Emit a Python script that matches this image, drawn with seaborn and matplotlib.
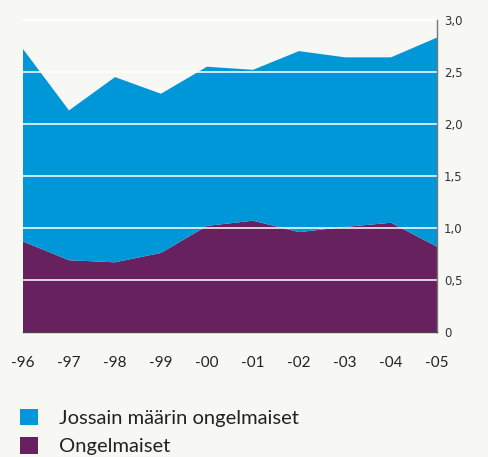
import matplotlib
matplotlib.use("Agg")
import matplotlib.pyplot as plt
from matplotlib.patches import Patch
import seaborn as sns
import numpy as np

years = ["-96", "-97", "-98", "-99", "-00", "-01", "-02", "-03", "-04", "-05"]
ongelmaiset = [0.87, 0.69, 0.67, 0.76, 1.02, 1.07, 0.96, 1.01, 1.05, 0.82]
jossain = [1.85, 1.44, 1.78, 1.53, 1.53, 1.45, 1.74, 1.63, 1.59, 2.01]
y_ticks = [0, 0.5, 1.0, 1.5, 2.0, 2.5, 3.0]
y_labels = ["0", "0,5", "1,0", "1,5", "2,0", "2,5", "3,0"]
labels = ["Jossain määrin ongelmaiset", "Ongelmaiset"]

bg = "#f7f7f3"
blue = "#0097d9"
purple = "#66215e"

sns.set_style("white")
plt.rcParams["font.family"] = ["Lato", "DejaVu Sans"]

fig = plt.figure(figsize=(4.88, 4.57), dpi=100, facecolor=bg)
ax = fig.add_axes([0.0471, 0.2735, 0.8484, 0.683])
ax.set_facecolor(bg)

x = np.arange(len(years))
ax.stackplot(x, ongelmaiset, jossain, colors=[purple, blue], zorder=1,
             linewidth=0, edgecolor="none")

for t in y_ticks[1:]:
    ax.axhline(t, color="white", lw=1.3, alpha=0.85, zorder=2, clip_on=False)

ax.set_xlim(0, len(years) - 1)
ax.set_ylim(0, 3.0)

ax.yaxis.tick_right()
ax.set_yticks(y_ticks)
ax.set_yticklabels(y_labels, fontsize=8.5, color="#333333", family="DejaVu Sans")
ax.tick_params(axis="y", length=0, pad=5)
ax.set_xticks(x)
ax.set_xticklabels(years, fontsize=11, color="#222222")
ax.tick_params(axis="x", length=0, pad=17)

for s in ["top", "left"]:
    ax.spines[s].set_visible(False)
ax.spines["bottom"].set_color("#444444")
ax.spines["bottom"].set_linewidth(1.0)
ax.spines["right"].set_color("#777777")
ax.spines["right"].set_linewidth(1.0)
ax.spines["bottom"].set_zorder(3)
ax.spines["right"].set_zorder(3)

handles = [Patch(facecolor=blue, edgecolor="none"), Patch(facecolor=purple, edgecolor="none")]
fig.legend(handles, labels, loc="lower left", bbox_to_anchor=(0.003, -0.036),
           frameon=False, fontsize=14.5, handlelength=0.9, handleheight=0.9,
           handletextpad=1.05, labelspacing=0.5, labelcolor="#222222")

fig.savefig("out.png", dpi=100, facecolor=bg)
